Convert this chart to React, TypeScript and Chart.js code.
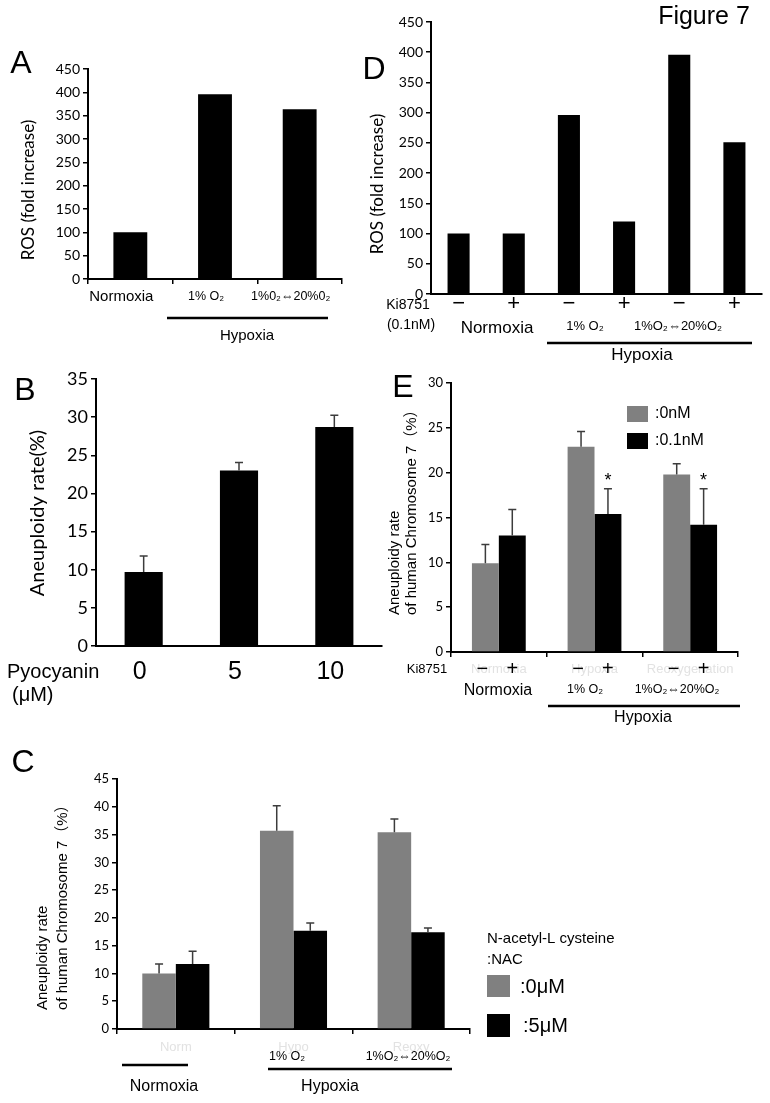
import React, { useEffect, useRef } from "react";
import { Chart, registerables } from "chart.js";

Chart.register(...registerables);

const SANS = '"Liberation Sans", "DejaVu Sans", "Noto Sans CJK JP", sans-serif';
const CAL = 'Lato, "Liberation Sans", "DejaVu Sans", sans-serif';

// ---------- Panel A : ROS ----------
const aCategories = ["Normoxia", "1% O₂", "1%0₂⇔20%0₂"];
const aRos = [100, 396, 364];

// ---------- Panel D : ROS with Ki8751 ----------
const dKi8751 = ["−", "+", "−", "+", "−", "+"];
const dRos = [100, 100, 296, 120, 396, 251];

// ---------- Panel B : Pyocyanin ----------
const bPyocyanin = ["0", "5", "10"];
const bRate = [9.7, 23.0, 28.7];
const bErr = [2.1, 1.05, 1.55];

// ---------- Panel E : Ki8751 ----------
const eCategories = ["Normoxia", "1% O₂", "1%O₂⇔20%O₂"];
const eFaint = ["Normoxia", "Hypoxia", "Reoxygenation"];
const eKi0nM = [9.9, 22.9, 19.8];
const eKi0nMErr = [2.1, 1.7, 1.2];
const eKi01nM = [13.0, 15.4, 14.2];
const eKi01nMErr = [2.9, 2.8, 4.0];
const eSignificant = [false, true, true];

// ---------- Panel C : NAC ----------
const cCategories = ["Normoxia", "1% O₂", "1%O₂⇔20%O₂"];
const cFaint = ["Norm", "Hypo", "Reoxy"];
const cNac0 = [10.0, 35.7, 35.4];
const cNac0Err = [1.7, 4.5, 2.4];
const cNac5 = [11.7, 17.7, 17.4];
const cNac5Err = [2.3, 1.4, 0.8];

const GRAY = "#808080";
const BLACK = "#000000";
const FAINT = "#e2e2e2";

type Rect = { x: number; y: number; w: number; h: number };
type Area = { l: number; t: number; r: number; b: number };
type Series = { data: number[]; color: string; err?: number[] };
type Helpers = {
  cx: (i: number) => number;
  bx: (ds: number, i: number) => number;
  py: (v: number) => number;
};
interface PanelSpec {
  rect: Rect;
  area: Area;
  labels: string[];
  series: Series[];
  yMax: number;
  yStep: number;
  tickSize: number;
  catPct: number;
  xTickMarks: boolean;
  draw: (ctx: CanvasRenderingContext2D, h: Helpers) => void;
}

function text(
  ctx: CanvasRenderingContext2D,
  s: string,
  x: number,
  y: number,
  size: number,
  family: string = SANS,
  align: CanvasTextAlign = "center",
  color: string = "#000"
) {
  ctx.save();
  ctx.font = `${size}px ${family}`;
  ctx.fillStyle = color;
  ctx.textAlign = align;
  ctx.textBaseline = "middle";
  ctx.fillText(s, x, y);
  ctx.restore();
}

function vtext(
  ctx: CanvasRenderingContext2D,
  s: string,
  x: number,
  y: number,
  size: number,
  family: string = SANS,
  align: CanvasTextAlign = "center"
) {
  ctx.save();
  ctx.translate(x, y);
  ctx.rotate(-Math.PI / 2);
  ctx.font = `${size}px ${family}`;
  ctx.fillStyle = "#000";
  ctx.textAlign = align;
  ctx.textBaseline = "middle";
  ctx.fillText(s, 0, 0);
  ctx.restore();
}

function hline(ctx: CanvasRenderingContext2D, x1: number, x2: number, y: number, w = 2.5) {
  ctx.save();
  ctx.strokeStyle = "#000";
  ctx.lineWidth = w;
  ctx.beginPath();
  ctx.moveTo(x1, y);
  ctx.lineTo(x2, y);
  ctx.stroke();
  ctx.restore();
}

function box(ctx: CanvasRenderingContext2D, x: number, y: number, w: number, h: number, c: string) {
  ctx.save();
  ctx.fillStyle = c;
  ctx.fillRect(x, y, w, h);
  ctx.restore();
}

function makeConfig(p: PanelSpec): any {
  const yW = p.area.l - p.rect.x;
  const xH = 24;
  const helpers = (chart: any): Helpers => ({
    cx: (i) => chart.scales.x.getPixelForValue(i) + p.rect.x,
    bx: (ds, i) => chart.getDatasetMeta(ds).data[i].x + p.rect.x,
    py: (v) => chart.scales.y.getPixelForValue(v) + p.rect.y,
  });
  const errPlugin = {
    id: "errbars",
    afterDatasetsDraw(chart: any) {
      const ctx = chart.ctx as CanvasRenderingContext2D;
      const ys = chart.scales.y;
      ctx.save();
      ctx.strokeStyle = "#3c3c3c";
      ctx.lineWidth = 1.5;
      p.series.forEach((s, di) => {
        if (!s.err) return;
        const meta = chart.getDatasetMeta(di);
        s.data.forEach((v, i) => {
          const el = meta.data[i];
          const top = ys.getPixelForValue(v + s.err![i]);
          ctx.beginPath();
          ctx.moveTo(el.x, el.y);
          ctx.lineTo(el.x, top);
          ctx.moveTo(el.x - 4, top);
          ctx.lineTo(el.x + 4, top);
          ctx.stroke();
        });
      });
      ctx.restore();
    },
  };
  const annotPlugin = {
    id: "annot",
    afterDraw(chart: any) {
      const ctx = chart.ctx as CanvasRenderingContext2D;
      ctx.save();
      ctx.translate(-p.rect.x, -p.rect.y);
      p.draw(ctx, helpers(chart));
      ctx.restore();
    },
  };
  return {
    type: "bar",
    data: {
      labels: p.labels,
      datasets: p.series.map((s) => ({
        data: s.data,
        backgroundColor: s.color,
        borderWidth: 0,
        categoryPercentage: p.catPct,
        barPercentage: 1,
      })),
    },
    options: {
      animation: false,
      responsive: false,
      maintainAspectRatio: false,
      events: [],
      layout: {
        padding: {
          left: 0,
          top: p.area.t - p.rect.y,
          right: p.rect.x + p.rect.w - p.area.r,
          bottom: p.rect.y + p.rect.h - p.area.b - xH,
        },
      },
      plugins: { legend: { display: false }, tooltip: { enabled: false } },
      scales: {
        x: {
          offset: true,
          ticks: { display: false },
          grid: {
            display: p.xTickMarks,
            offset: true,
            drawOnChartArea: false,
            drawTicks: true,
            tickLength: 5,
            color: "#000",
            lineWidth: 1.5,
          },
          border: { display: true, color: "#000", width: 2 },
          afterFit: (s: any) => {
            s.height = xH;
          },
        },
        y: {
          min: 0,
          max: p.yMax,
          ticks: {
            stepSize: p.yStep,
            color: "#000",
            padding: 3,
            autoSkip: false,
            font: { family: CAL, size: p.tickSize },
          },
          grid: {
            drawOnChartArea: false,
            drawTicks: true,
            tickLength: 5,
            color: "#000",
            lineWidth: 1.5,
          },
          border: { display: true, color: "#000", width: 2 },
          afterFit: (s: any) => {
            s.width = yW;
          },
        },
      },
    },
    plugins: [errPlugin, annotPlugin],
  };
}

const panelA: PanelSpec = {
  rect: { x: 0, y: 40, w: 375, h: 320 },
  area: { l: 88, t: 69, r: 342, b: 279 },
  labels: aCategories,
  series: [{ data: aRos, color: BLACK }],
  yMax: 450,
  yStep: 50,
  tickSize: 14,
  catPct: 0.4,
  xTickMarks: true,
  draw: (ctx, h) => {
    text(ctx, "A", 21, 64, 32);
    vtext(ctx, "ROS (fold increase)", 29, 190, 17, CAL);
    aCategories.forEach((c, i) => text(ctx, c, h.cx(i) - 9, 297, i === 0 ? 15 : 12.5));
    hline(ctx, 167, 328, 318);
    text(ctx, "Hypoxia", 247, 336, 15);
  },
};

const panelD: PanelSpec = {
  rect: { x: 362, y: 0, w: 408, h: 370 },
  area: { l: 431, t: 22, r: 762, b: 294 },
  labels: dKi8751,
  series: [{ data: dRos, color: BLACK }],
  yMax: 450,
  yStep: 50,
  tickSize: 14,
  catPct: 0.4,
  xTickMarks: false,
  draw: (ctx, h) => {
    text(ctx, "Figure 7", 704, 17, 25);
    text(ctx, "D", 374, 70, 32);
    vtext(ctx, "ROS (fold increase)", 378, 184, 17, CAL);
    text(ctx, "Ki8751", 408, 305, 14);
    text(ctx, "(0.1nM)", 411, 325, 14);
    dKi8751.forEach((s, i) => text(ctx, s, h.cx(i), 304, 22));
    text(ctx, "Normoxia", 497, 328, 17);
    text(ctx, "1% O₂", 585, 326, 13);
    text(ctx, "1%O₂⇔20%O₂", 678, 326, 13);
    hline(ctx, 547, 752, 343);
    text(ctx, "Hypoxia", 642, 355, 17);
  },
};

const panelB: PanelSpec = {
  rect: { x: 0, y: 365, w: 385, h: 345 },
  area: { l: 96, t: 379, r: 382, b: 646 },
  labels: bPyocyanin,
  series: [{ data: bRate, color: BLACK, err: bErr }],
  yMax: 35,
  yStep: 5,
  tickSize: 18,
  catPct: 0.4,
  xTickMarks: false,
  draw: (ctx, h) => {
    text(ctx, "B", 25, 391, 32);
    vtext(ctx, "Aneuploidy rate(%)", 38, 513, 20, CAL);
    text(ctx, "Pyocyanin", 7, 672, 20, SANS, "left");
    text(ctx, "(μM)", 12, 695, 20, SANS, "left");
    bPyocyanin.forEach((c, i) => text(ctx, c, h.cx(i) - 4, 672, 25));
  },
};

const panelE: PanelSpec = {
  rect: { x: 385, y: 365, w: 385, h: 365 },
  area: { l: 451, t: 383, r: 738, b: 652 },
  labels: eCategories,
  series: [
    { data: eKi0nM, color: GRAY, err: eKi0nMErr },
    { data: eKi01nM, color: BLACK, err: eKi01nMErr },
  ],
  yMax: 30,
  yStep: 5,
  tickSize: 13,
  catPct: 0.5625,
  xTickMarks: true,
  draw: (ctx, h) => {
    text(ctx, "E", 403, 388, 32);
    vtext(ctx, "Aneuploidy rate", 395, 615, 15, SANS, "left");
    vtext(ctx, "of human Chromosome 7（%）", 412, 615, 15, SANS, "left");
    box(ctx, 627, 406, 21, 16, GRAY);
    text(ctx, ":0nM", 655, 414, 16, SANS, "left");
    box(ctx, 627, 433, 21, 16, BLACK);
    text(ctx, ":0.1nM", 655, 441, 16, SANS, "left");
    eSignificant.forEach((sig, i) => {
      if (sig) text(ctx, "*", h.bx(1, i), h.py(eKi01nM[i] + eKi01nMErr[i]) - 8, 18);
    });
    eFaint.forEach((s, i) => text(ctx, s, h.cx(i), 669, 13, SANS, "center", FAINT));
    text(ctx, "Ki8751", 427, 669, 13);
    eCategories.forEach((_, i) => {
      text(ctx, "−", h.bx(0, i) - 3, 669, 20);
      text(ctx, "+", h.bx(1, i), 669, 20);
    });
    text(ctx, "Normoxia", 498, 691, 16);
    text(ctx, "1% O₂", 585, 690, 12.5);
    text(ctx, "1%O₂⇔20%O₂", 677, 690, 12.5);
    hline(ctx, 548, 740, 706);
    text(ctx, "Hypoxia", 643, 718, 16);
  },
};

const panelC: PanelSpec = {
  rect: { x: 0, y: 735, w: 770, h: 368 },
  area: { l: 117, t: 779, r: 470, b: 1029 },
  labels: cCategories,
  series: [
    { data: cNac0, color: GRAY, err: cNac0Err },
    { data: cNac5, color: BLACK, err: cNac5Err },
  ],
  yMax: 45,
  yStep: 5,
  tickSize: 13,
  catPct: 0.57,
  xTickMarks: true,
  draw: (ctx, h) => {
    text(ctx, "C", 23, 763, 32);
    vtext(ctx, "Aneuploidy rate", 43, 1010, 15, SANS, "left");
    vtext(ctx, "of human Chromosome 7（%）", 63, 1010, 15, SANS, "left");
    cFaint.forEach((s, i) => text(ctx, s, h.cx(i), 1047, 13, SANS, "center", FAINT));
    text(ctx, "1% O₂", 287, 1057, 12.5);
    text(ctx, "1%O₂⇔20%O₂", 408, 1057, 12.5);
    hline(ctx, 122, 188, 1065);
    hline(ctx, 268, 452, 1069);
    text(ctx, "Normoxia", 164, 1087, 16);
    text(ctx, "Hypoxia", 330, 1087, 16);
    text(ctx, "N-acetyl-L cysteine", 487, 939, 15, SANS, "left");
    text(ctx, ":NAC", 487, 960, 15, SANS, "left");
    box(ctx, 487, 975, 23, 22, GRAY);
    text(ctx, ":0μM", 520, 987, 20, SANS, "left");
    box(ctx, 487, 1014, 23, 23, BLACK);
    text(ctx, ":5μM", 523, 1026, 20, SANS, "left");
  },
};

function ChartPanel({ spec }: { spec: PanelSpec }) {
  const ref = useRef<HTMLCanvasElement>(null);
  useEffect(() => {
    if (!ref.current) return;
    const chart = new Chart(ref.current, makeConfig(spec));
    return () => chart.destroy();
  }, [spec]);
  const r = spec.rect;
  return (
    <canvas
      ref={ref}
      width={r.w}
      height={r.h}
      style={{ position: "absolute", left: r.x, top: r.y, width: r.w, height: r.h }}
    />
  );
}

export default function App() {
  return (
    <div style={{ position: "relative", width: 770, height: 1103, background: "#fff", overflow: "hidden" }}>
      <style>{`body{margin:0;background:#fff;}`}</style>
      <ChartPanel spec={panelA} />
      <ChartPanel spec={panelD} />
      <ChartPanel spec={panelB} />
      <ChartPanel spec={panelE} />
      <ChartPanel spec={panelC} />
    </div>
  );
}
